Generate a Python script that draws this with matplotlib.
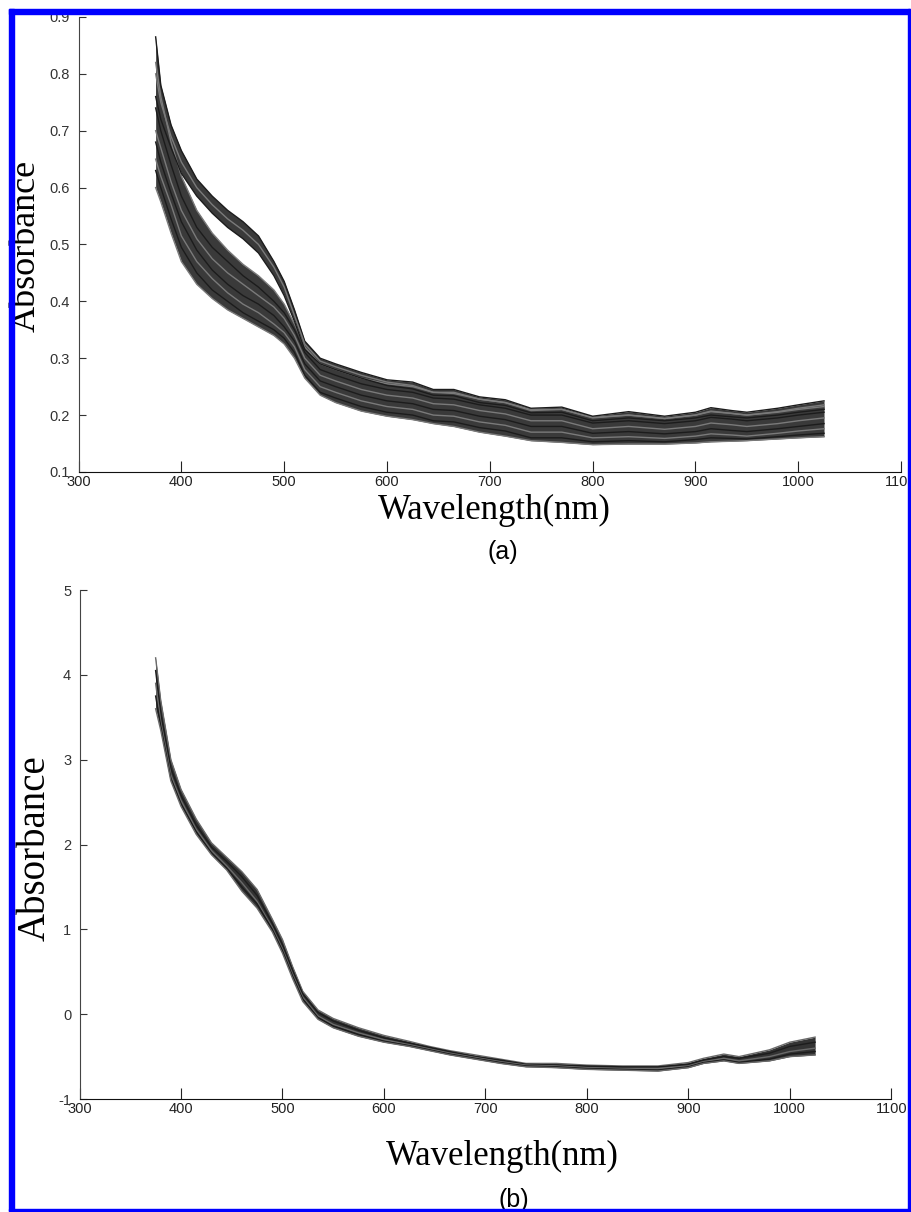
import matplotlib.pyplot as plt
from matplotlib.patches import Rectangle

plt.rcParams['axes.unicode_minus'] = False

# wavelength grid (nm) shared by both panels
wavelength = [375, 380, 390, 400, 415, 430, 445, 460, 475, 490,
              500, 510, 520, 535, 550, 575, 600, 625, 645, 665,
              690, 715, 740, 770, 800, 835, 870, 900, 915, 935,
              950, 980, 1000, 1025]

# (a) raw spectra: upper bundle
raw_upper = [
    [.865, .78, .71, .665, .615, .585, .56, .54, .515, .47, .435, .385, .33, .30, .29, .275, .262,
     .258, .245, .245, .232, .227, .212, .214, .198, .206, .198, .205, .213, .208, .205, .212, .218, .225],
    [.80, .75, .69, .645, .60, .57, .545, .525, .50, .46, .425, .375, .325, .295, .285, .27, .258,
     .252, .24, .24, .228, .222, .208, .21, .195, .20, .194, .20, .207, .203, .20, .206, .212, .218],
    [.76, .72, .67, .625, .585, .555, .53, .51, .485, .445, .41, .365, .315, .29, .28, .265, .252,
     .246, .235, .234, .222, .217, .204, .205, .19, .195, .19, .195, .20, .197, .195, .20, .205, .21],
]
# (a) raw spectra: lower bundle
raw_lower = [
    [.82, .76, .68, .62, .56, .52, .49, .465, .445, .42, .395, .36, .32, .29, .28, .265, .255,
     .25, .24, .238, .228, .222, .21, .21, .196, .20, .194, .20, .206, .203, .20, .205, .21, .215],
    [.74, .70, .64, .585, .53, .495, .47, .445, .425, .40, .38, .35, .31, .28, .27, .255, .245,
     .24, .23, .228, .218, .212, .20, .20, .186, .19, .185, .19, .196, .193, .19, .195, .20, .205],
    [.70, .67, .61, .56, .51, .475, .45, .43, .41, .39, .37, .34, .30, .27, .26, .245, .235,
     .23, .22, .218, .208, .202, .19, .19, .176, .18, .175, .18, .186, .183, .18, .185, .19, .195],
    [.68, .645, .59, .54, .49, .455, .43, .41, .395, .375, .355, .33, .29, .26, .25, .235, .225,
     .22, .21, .208, .198, .192, .18, .18, .168, .171, .167, .171, .176, .173, .171, .176, .18, .185],
    [.65, .62, .57, .515, .47, .44, .415, .395, .38, .36, .345, .32, .28, .25, .24, .225, .215,
     .21, .20, .198, .188, .182, .17, .17, .16, .162, .159, .163, .167, .165, .163, .168, .172, .176],
    [.63, .60, .545, .495, .45, .42, .40, .38, .365, .35, .335, .31, .27, .24, .23, .215, .205,
     .20, .19, .188, .178, .172, .16, .16, .153, .155, .153, .157, .16, .159, .158, .162, .165, .168],
    [.60, .575, .52, .47, .43, .405, .385, .37, .355, .34, .325, .30, .265, .235, .222, .207, .198,
     .192, .185, .18, .17, .163, .155, .152, .148, .149, .149, .151, .153, .154, .155, .158, .16, .162],
]

# (b) pretreated spectra
pretreated = [
    [4.2, 3.7, 3.0, 2.65, 2.3, 2.02, 1.85, 1.68, 1.47, 1.12, .88, .56, .27, .05, -.05, -.16, -.25,
     -.32, -.38, -.43, -.48, -.53, -.58, -.58, -.60, -.61, -.61, -.57, -.52, -.47, -.50, -.42, -.33, -.27],
    [4.05, 3.55, 2.9, 2.58, 2.23, 1.97, 1.8, 1.62, 1.4, 1.07, .82, .52, .24, .02, -.08, -.19, -.28,
     -.34, -.39, -.44, -.50, -.54, -.59, -.60, -.61, -.62, -.62, -.59, -.54, -.50, -.52, -.46, -.38, -.33],
    [3.9, 3.45, 2.82, 2.52, 2.18, 1.93, 1.75, 1.55, 1.33, 1.02, .77, .47, .20, -.02, -.12, -.22, -.30,
     -.36, -.41, -.46, -.51, -.56, -.60, -.61, -.63, -.64, -.64, -.61, -.56, -.52, -.55, -.50, -.44, -.40],
    [3.75, 3.4, 2.78, 2.48, 2.15, 1.9, 1.72, 1.5, 1.3, 1.0, .75, .45, .18, -.04, -.14, -.24, -.32,
     -.37, -.42, -.47, -.52, -.57, -.61, -.62, -.64, -.65, -.66, -.62, -.57, -.54, -.57, -.53, -.47, -.44],
    [3.6, 3.35, 2.75, 2.45, 2.12, 1.88, 1.7, 1.45, 1.25, .97, .72, .42, .15, -.06, -.16, -.26, -.33,
     -.38, -.43, -.48, -.53, -.58, -.62, -.63, -.65, -.66, -.67, -.63, -.58, -.55, -.58, -.55, -.50, -.48],
]

xticks = [300, 400, 500, 600, 700, 800, 900, 1000, 1100]
yticks_a = [0.1, 0.2, 0.3, 0.4, 0.5, 0.6, 0.7, 0.8, 0.9]
ylabels_a = ['0.1', '0.2', '0.3', '0.4', '0.5', '0.6', '0.7', '0.8', '0.9']
yticks_b = [-1, 0, 1, 2, 3, 4, 5]

sans = ['Liberation Sans', 'DejaVu Sans']
serif = ['Liberation Serif', 'DejaVu Serif']

fig = plt.figure(figsize=(9.12, 12.12), dpi=100)
ax1 = fig.add_axes([0.0861, 0.6106, 0.902, 0.3754])
ax2 = fig.add_axes([0.0872, 0.0932, 0.890, 0.420])


def style(ax, yticks):
    for s in ['top', 'right']:
        ax.spines[s].set_visible(False)
    ax.spines['left'].set_color('#444444')
    ax.spines['bottom'].set_color('#111111')
    ax.set_xlim(300, 1100)
    ax.set_xticks(xticks)
    ax.set_yticks(yticks)
    ax.set_ylim(yticks[0], yticks[-1])
    ax.tick_params(axis='x', direction='in', length=8, pad=2, labelsize=10.5, colors='#222222')
    ax.tick_params(axis='y', direction='in', length=5, pad=6, labelsize=10.5, colors='#333333')
    for lab in ax.get_xticklabels() + ax.get_yticklabels():
        lab.set_family(sans)


# (a)
ax1.fill_between(wavelength, raw_lower[-1], raw_lower[0], color='#3a3a3a', lw=0)
ax1.fill_between(wavelength, raw_upper[-1], raw_upper[0], color='#3a3a3a', lw=0)
for i, y in enumerate(raw_lower + raw_upper):
    ax1.plot(wavelength, y, color='#1c1c1c' if i % 2 else '#7a7a7a', lw=1.0)
ax1.set_yticks(yticks_a)
ax1.set_yticklabels(ylabels_a)
style(ax1, yticks_a)

# (b)
ax2.fill_between(wavelength, pretreated[-1], pretreated[0], color='#333333', lw=0)
for i, y in enumerate(pretreated):
    ax2.plot(wavelength, y, color='#1c1c1c' if i % 2 else '#6a6a6a', lw=1.0)
style(ax2, yticks_b)

# labels
fig.text(0.0285, 0.797, 'Absorbance', rotation=90, ha='center', va='center', family=serif, fontsize=26)
fig.text(0.5417, 0.579, 'Wavelength(nm)', ha='center', va='center', family=serif, fontsize=25)
fig.text(0.5515, 0.5446, '(a)', ha='center', va='center', family=sans, fontsize=18)

fig.text(0.0384, 0.3003, 'Absorbance', rotation=90, ha='center', va='center', family=serif, fontsize=28)
fig.text(0.5504, 0.046, 'Wavelength(nm)', ha='center', va='center', family=serif, fontsize=25)
fig.text(0.5636, 0.0099, '(b)', ha='center', va='center', family=sans, fontsize=18)

# blue frame round the picture
W, H = 912.0, 1212.0
blue = '#0000ff'
fig.patches.append(Rectangle((910 / W, 0), 2 / W, 1, transform=fig.transFigure, color='white', zorder=5))
fig.patches.append(Rectangle((9 / W, 1 - 14 / H), 901 / W, 5 / H, transform=fig.transFigure, color=blue, zorder=6))
fig.patches.append(Rectangle((9 / W, 1 - 1211 / H), 5 / W, 1202 / H, transform=fig.transFigure, color=blue, zorder=6))
fig.patches.append(Rectangle((908 / W, 1 - 1211 / H), 2 / W, 1202 / H, transform=fig.transFigure, color=blue, zorder=6))
fig.patches.append(Rectangle((9 / W, 1 - 1211 / H), 901 / W, 2 / H, transform=fig.transFigure, color=blue, zorder=6))
fig.patches.append(Rectangle((0, 1 - 9 / H), 1, 9 / H, transform=fig.transFigure, color='white', zorder=5))

plt.savefig('out.png', dpi=100)
